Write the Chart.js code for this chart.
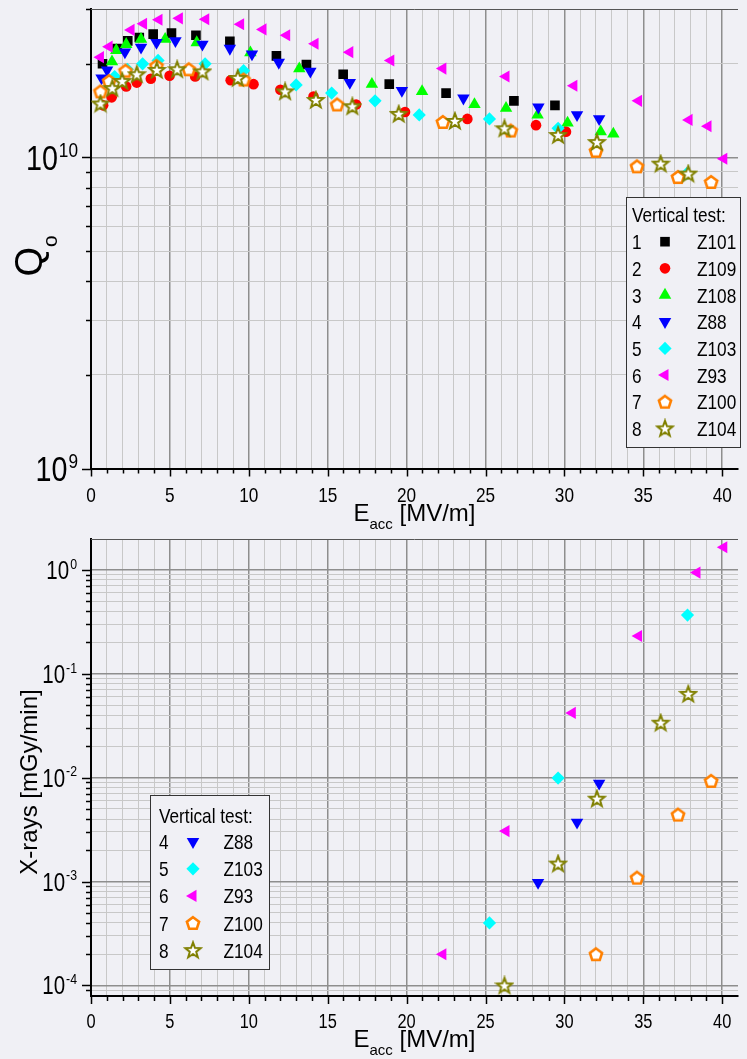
<!DOCTYPE html>
<html>
<head>
<meta charset="utf-8">
<title>Q0 and X-rays vs Eacc</title>
<script src="https://cdn.jsdelivr.net/npm/chart.js@4.4.1/dist/chart.umd.min.js"></script>
<style>
  html, body { margin: 0; padding: 0; background: #f0f0f5; }
  #wrap { position: relative; width: 747px; height: 1059px; overflow: hidden; }
  canvas { position: absolute; left: 0; }
  #qChart { top: 0; }
  #xChart { top: 530px; }
</style>
</head>
<body>
<div id="wrap">
  <canvas id="qChart" width="747" height="530"></canvas>
  <canvas id="xChart" width="747" height="529"></canvas>
</div>
<script>
// upper panel: Q0 vs Eacc [MV/m], one pair of arrays per cavity
const z101E = [0.73, 1.65, 2.33, 3.06, 3.94, 5.1, 6.65, 8.8, 11.75, 13.65, 15.98, 18.9, 22.5, 26.8, 29.4];
const z101Q = [2.0e10, 2.24e10, 2.37e10, 2.43e10, 2.49e10, 2.51e10, 2.47e10, 2.36e10, 2.12e10, 1.99e10, 1.85e10, 1.72e10, 1.61e10, 1.52e10, 1.47e10];

const z109E = [0.77, 1.31, 2.23, 2.9, 3.79, 4.98, 6.6, 8.85, 10.3, 12.0, 14.1, 16.8, 19.9, 23.85, 28.2, 30.1];
const z109Q = [1.47e10, 1.56e10, 1.69e10, 1.74e10, 1.79e10, 1.83e10, 1.82e10, 1.77e10, 1.72e10, 1.65e10, 1.57e10, 1.48e10, 1.40e10, 1.33e10, 1.27e10, 1.21e10];

const z108E = [1.33, 1.6, 2.23, 3.17, 4.7, 6.7, 10.1, 13.2, 17.8, 20.98, 24.3, 26.3, 28.3, 30.2, 32.3, 33.1];
const z108Q = [2.03e10, 2.21e10, 2.31e10, 2.40e10, 2.40e10, 2.34e10, 2.17e10, 1.93e10, 1.72e10, 1.63e10, 1.48e10, 1.44e10, 1.37e10, 1.29e10, 1.21e10, 1.19e10];

const z88E = [0.67, 1.02, 2.15, 3.17, 4.15, 5.35, 7.06, 8.8, 10.2, 11.9, 13.9, 16.4, 19.7, 23.6, 28.35, 30.8, 32.2];
const z88Q = [1.80e10, 1.91e10, 2.18e10, 2.26e10, 2.34e10, 2.37e10, 2.31e10, 2.24e10, 2.15e10, 2.02e10, 1.89e10, 1.74e10, 1.64e10, 1.55e10, 1.45e10, 1.37e10, 1.33e10];

const z103E = [1.5, 2.3, 3.27, 4.25, 7.23, 9.67, 13.0, 15.25, 18.0, 20.8, 25.25, 29.6, 37.75];
const z103Q = [1.82e10, 1.92e10, 2.0e10, 2.05e10, 2.0e10, 1.90e10, 1.71e10, 1.61e10, 1.52e10, 1.37e10, 1.33e10, 1.24e10, 8.87e9];

const z93E = [0.6, 1.15, 2.54, 3.33, 4.31, 5.6, 7.27, 9.48, 10.9, 12.4, 14.2, 16.4, 19.0, 22.3, 26.3, 30.6, 34.7, 37.9, 39.1, 40.1];
const z93Q = [2.1e10, 2.27e10, 2.57e10, 2.69e10, 2.77e10, 2.8e10, 2.78e10, 2.68e10, 2.58e10, 2.47e10, 2.32e10, 2.18e10, 2.05e10, 1.93e10, 1.82e10, 1.70e10, 1.52e10, 1.32e10, 1.26e10, 9.9e9];

const z100E = [0.6, 1.15, 2.19, 4.15, 6.2, 9.67, 15.6, 22.3, 26.6, 32.0, 34.6, 37.2, 39.3];
const z100Q = [1.63e10, 1.76e10, 1.90e10, 1.97e10, 1.92e10, 1.78e10, 1.48e10, 1.30e10, 1.22e10, 1.05e10, 9.36e9, 8.65e9, 8.34e9];

const z104E = [0.6, 1.35, 1.98, 2.9, 4.17, 5.46, 7.06, 9.3, 12.3, 14.25, 16.56, 19.5, 23.06, 26.2, 29.6, 32.06, 36.1, 37.85];
const z104Q = [1.49e10, 1.67e10, 1.76e10, 1.85e10, 1.91e10, 1.92e10, 1.89e10, 1.80e10, 1.63e10, 1.53e10, 1.46e10, 1.38e10, 1.31e10, 1.24e10, 1.18e10, 1.12e10, 9.55e9, 8.87e9];

// lower panel: X-ray dose rate [mGy/min] vs Eacc
const z88XrE = [28.33, 30.8, 32.2];
const z88Xr = [9.8e-4, 3.72e-3, 8.8e-3];
const z103XrE = [25.25, 29.6, 37.8];
const z103Xr = [4.0e-4, 9.9e-3, 0.367];
const z93XrE = [22.3, 26.3, 30.5, 34.7, 38.4, 40.1];
const z93Xr = [2.0e-4, 3.06e-3, 0.042, 0.231, 0.94, 1.65];
const z100XrE = [32.0, 34.6, 37.2, 39.3];
const z100Xr = [2.0e-4, 1.09e-3, 4.41e-3, 9.3e-3];
const z104XrE = [26.2, 29.6, 32.06, 36.1, 37.85];
const z104Xr = [1.0e-4, 1.49e-3, 6.27e-3, 0.0338, 0.064];

// axes
const eTicks = [0, 1, 2, 3, 4, 5, 6, 7, 8, 9, 10, 11, 12, 13, 14, 15, 16, 17, 18, 19, 20,
  21, 22, 23, 24, 25, 26, 27, 28, 29, 30, 31, 32, 33, 34, 35, 36, 37, 38, 39, 40];
const eLabelValues = [0, 5, 10, 15, 20, 25, 30, 35, 40];
const eLabels = ['0', '5', '10', '15', '20', '25', '30', '35', '40'];
const qTicks = [1e9, 2e9, 3e9, 4e9, 5e9, 6e9, 7e9, 8e9, 9e9, 1e10, 2e10, 3e10];
const qExponents = [9, 10];
const xrTicks = [9e-5, 1e-4, 2e-4, 3e-4, 4e-4, 5e-4, 6e-4, 7e-4, 8e-4, 9e-4,
  1e-3, 2e-3, 3e-3, 4e-3, 5e-3, 6e-3, 7e-3, 8e-3, 9e-3,
  1e-2, 2e-2, 3e-2, 4e-2, 5e-2, 6e-2, 7e-2, 8e-2, 9e-2,
  1e-1, 2e-1, 3e-1, 4e-1, 5e-1, 6e-1, 7e-1, 8e-1, 9e-1, 1];
const xrExponents = [-4, -3, -2, -1, 0];

const WIDE = '"Liberation Sans", Arial, sans-serif';
// no narrow face installed: squeeze Liberation Sans the way Arial Narrow does
const NARROW_SCALE = 0.82;
const BG = '#f0f0f5';
const MAJOR_GRID = '#8e8e8e';
const MINOR_GRID = '#c8c8c8';

function narrowWidth(ctx, text, size) {
  ctx.font = size + 'px ' + WIDE;
  return ctx.measureText(text).width * NARROW_SCALE;
}

function narrowText(ctx, text, x, y, size, align) {
  const w = narrowWidth(ctx, text, size);
  let left = x;
  if (align === 'right') left = x - w;
  else if (align === 'center') left = x - w / 2;
  ctx.save();
  ctx.translate(left, y);
  ctx.scale(NARROW_SCALE, 1);
  ctx.textAlign = 'left';
  ctx.textBaseline = 'alphabetic';
  ctx.fillText(text, 0, 0);
  ctx.restore();
  return w;
}

// pentagon and 5-point star are not built in, so draw them once as images
function makePentagon(color) {
  const c = document.createElement('canvas');
  c.width = c.height = 18;
  const g = c.getContext('2d');
  g.beginPath();
  for (let i = 0; i < 5; i++) {
    const a = -Math.PI / 2 + i * 2 * Math.PI / 5;
    const px = 9 + 6.4 * Math.cos(a), py = 9.6 + 6.4 * Math.sin(a);
    if (i) g.lineTo(px, py); else g.moveTo(px, py);
  }
  g.closePath();
  g.fillStyle = '#fff';
  g.fill();
  g.lineWidth = 2.6;
  g.strokeStyle = color;
  g.stroke();
  return c;
}

function makeStar(color) {
  const c = document.createElement('canvas');
  c.width = c.height = 20;
  const g = c.getContext('2d');
  g.beginPath();
  for (let i = 0; i < 10; i++) {
    const a = -Math.PI / 2 + i * Math.PI / 5;
    const r = i % 2 ? 3.4 : 8.2;
    const px = 10 + r * Math.cos(a), py = 10.6 + r * Math.sin(a);
    if (i) g.lineTo(px, py); else g.moveTo(px, py);
  }
  g.closePath();
  g.fillStyle = '#fff';
  g.fill();
  g.lineWidth = 2;
  g.lineJoin = 'miter';
  g.strokeStyle = color;
  g.stroke();
  return c;
}

const seriesStyle = {
  Z101: { num: '1', pointStyle: 'rect', radius: 6.8, color: '#000000' },
  Z109: { num: '2', pointStyle: 'circle', radius: 5.3, color: '#ff0000' },
  Z108: { num: '3', pointStyle: 'triangle', radius: 7.2, color: '#00ff00' },
  Z88: { num: '4', pointStyle: 'triangle', rotation: 180, radius: 7.2, color: '#0000ff' },
  Z103: { num: '5', pointStyle: 'rectRot', radius: 6.6, color: '#00ffff' },
  Z93: { num: '6', pointStyle: 'triangle', rotation: 270, radius: 7, color: '#ff00ff' },
  Z100: { num: '7', pointStyle: makePentagon('#ff8000'), radius: 9, color: '#ff8000' },
  Z104: { num: '8', pointStyle: makeStar('#808000'), radius: 9, color: '#808000' },
};

// later test numbers end up on top, like the original plot
const series = (name, xs, ys) => {
  const s = seriesStyle[name];
  return {
    label: name,
    data: xs.map((x, i) => ({ x, y: ys[i] })),
    pointStyle: s.pointStyle,
    pointRotation: s.rotation || 0,
    pointRadius: s.radius,
    pointBackgroundColor: s.color,
    pointBorderColor: s.color,
    pointBorderWidth: 0,
    order: 10 - Number(s.num),
  };
};

const isDecade = (v) => Math.abs(Math.log10(v) - Math.round(Math.log10(v))) < 1e-6;

function drawLegend(ctx, box, names) {
  ctx.fillStyle = BG;
  ctx.fillRect(box.x, box.y, box.w, box.h);
  ctx.strokeStyle = '#333';
  ctx.lineWidth = 1;
  ctx.strokeRect(box.x + 0.5, box.y + 0.5, box.w, box.h);

  ctx.fillStyle = '#000';
  narrowText(ctx, 'Vertical test:', box.numX, box.titleY, 21);

  names.forEach((name, i) => {
    const s = seriesStyle[name];
    const cy = box.rowY + i * box.rowGap;
    ctx.fillStyle = '#000';
    narrowText(ctx, s.num, box.numX, cy + 7.5, 21);
    narrowText(ctx, name, box.nameX, cy + 7.5, 21);
    ctx.fillStyle = s.color;
    Chart.helpers.drawPoint(ctx, { pointStyle: s.pointStyle, rotation: s.rotation || 0, radius: s.radius, borderWidth: 0 }, box.markX, cy);
  });
}

function drawEaccTitle(ctx, cx, baseline) {
  ctx.font = '24px ' + WIDE;
  const wE = ctx.measureText('E').width;
  const wU = ctx.measureText(' [MV/m]').width;
  ctx.font = '15px ' + WIDE;
  const wS = ctx.measureText('acc').width;
  const x0 = cx - (wE + wS + wU) / 2;
  ctx.fillStyle = '#000';
  ctx.textAlign = 'left';
  ctx.textBaseline = 'alphabetic';
  ctx.font = '24px ' + WIDE;
  ctx.fillText('E', x0, baseline);
  ctx.font = '15px ' + WIDE;
  ctx.fillText('acc', x0 + wE, baseline + 8);
  ctx.font = '24px ' + WIDE;
  ctx.fillText(' [MV/m]', x0 + wE + wS, baseline);
}

// frame, tick marks, tick labels, titles and legend
const decor = (cfg) => ({
  id: 'decor',
  afterDraw(chart) {
    const { ctx, chartArea: a, scales: { x, y } } = chart;
    ctx.save();

    ctx.strokeStyle = '#555';
    ctx.lineWidth = 1;
    ctx.beginPath();
    ctx.moveTo(a.left, a.top + 0.5);
    ctx.lineTo(a.right, a.top + 0.5);
    ctx.stroke();

    ctx.strokeStyle = '#000';
    ctx.lineWidth = 1.5;
    ctx.beginPath();
    x.ticks.forEach((t) => {
      const px = Math.round(x.getPixelForValue(t.value)) + 0.5;
      const len = t.value % 5 === 0 ? 8 : 5;
      ctx.moveTo(px, a.bottom);
      ctx.lineTo(px, a.bottom + len);
    });
    y.ticks.forEach((t) => {
      const py = Math.round(y.getPixelForValue(t.value)) + 0.5;
      const len = isDecade(t.value) ? 9 : 5;
      ctx.moveTo(a.left - len, py);
      ctx.lineTo(a.left, py);
    });
    ctx.stroke();

    ctx.fillStyle = '#000';
    eLabelValues.forEach((v, i) => {
      narrowText(ctx, eLabels[i], x.getPixelForValue(v), cfg.tickBase, cfg.tickSize, 'center');
    });

    // 10^n labels, exponent raised
    cfg.exponents.forEach((e) => {
      const py = y.getPixelForValue(Math.pow(10, e));
      const sup = String(e);
      const wSup = narrowWidth(ctx, sup, cfg.supSize);
      const base = py + 0.716 * cfg.baseSize / 2;
      narrowText(ctx, '10', cfg.labelRight - wSup - 1, base, cfg.baseSize, 'right');
      narrowText(ctx, sup, cfg.labelRight - wSup, base - 0.716 * cfg.baseSize - 3 + 0.716 * cfg.supSize, cfg.supSize);
    });

    drawEaccTitle(ctx, (a.left + a.right) / 2, cfg.titleBase);
    cfg.yTitle(ctx);
    drawLegend(ctx, cfg.legend, cfg.legendNames);
    ctx.restore();
  },
});

function buildChart(id, cfg) {
  return new Chart(document.getElementById(id), {
    type: 'scatter',
    data: { datasets: cfg.datasets },
    options: {
      responsive: false,
      animation: false,
      devicePixelRatio: 1,
      events: [],
      layout: { padding: { left: 91, top: cfg.top, right: 0, bottom: 0 } },
      plugins: { legend: { display: false }, tooltip: { enabled: false } },
      scales: {
        x: {
          type: 'linear',
          min: 0,
          max: 41,
          afterBuildTicks: (s) => { s.ticks = eTicks.map((value) => ({ value })); },
          afterFit: (s) => { s.height = cfg.xAxisHeight; },
          grid: {
            drawTicks: false,
            color: (c) => (c.tick && c.tick.value % 5 === 0 ? MAJOR_GRID : MINOR_GRID),
            lineWidth: (c) => (c.tick && c.tick.value % 5 === 0 ? 1.5 : 1),
          },
          border: { color: '#000', width: 2 },
          ticks: { display: false },
        },
        y: {
          type: 'logarithmic',
          min: cfg.yMin,
          max: cfg.yMax,
          afterBuildTicks: (s) => { s.ticks = cfg.yTicks.map((value) => ({ value })); },
          afterFit: (s) => { s.width = 0; },
          grid: {
            drawTicks: false,
            color: (c) => (c.tick && isDecade(c.tick.value) ? MAJOR_GRID : MINOR_GRID),
            lineWidth: (c) => (c.tick && isDecade(c.tick.value) ? 1.5 : 1),
          },
          border: { color: '#000', width: 2 },
          ticks: { display: false },
        },
      },
    },
    plugins: [decor(cfg)],
  });
}

buildChart('qChart', {
  datasets: [
    series('Z101', z101E, z101Q),
    series('Z109', z109E, z109Q),
    series('Z108', z108E, z108Q),
    series('Z88', z88E, z88Q),
    series('Z103', z103E, z103Q),
    series('Z93', z93E, z93Q),
    series('Z100', z100E, z100Q),
    series('Z104', z104E, z104Q),
  ],
  top: 8,
  xAxisHeight: 61.5,
  tickBase: 502,
  tickSize: 21,
  yMin: 1e9,
  yMax: 3e10,
  yTicks: qTicks,
  exponents: qExponents,
  baseSize: 35,
  supSize: 21,
  labelRight: 78,
  titleBase: 521,
  yTitle: (ctx) => {
    ctx.save();
    ctx.translate(42, 276.5);
    ctx.rotate(-Math.PI / 2);
    ctx.fillStyle = '#000';
    ctx.textAlign = 'left';
    ctx.textBaseline = 'alphabetic';
    ctx.font = '38px ' + WIDE;
    const wQ = ctx.measureText('Q').width;
    ctx.fillText('Q', 0, 0);
    ctx.font = '21px ' + WIDE;
    ctx.fillText('o', wQ, 15);
    ctx.restore();
  },
  legend: { x: 626, y: 197, w: 114, h: 250, numX: 632, markX: 665, nameX: 697, titleY: 222, rowY: 241.7, rowGap: 26.67 },
  legendNames: ['Z101', 'Z109', 'Z108', 'Z88', 'Z103', 'Z93', 'Z100', 'Z104'],
});

buildChart('xChart', {
  datasets: [
    series('Z88', z88XrE, z88Xr),
    series('Z103', z103XrE, z103Xr),
    series('Z93', z93XrE, z93Xr),
    series('Z100', z100XrE, z100Xr),
    series('Z104', z104XrE, z104Xr),
  ],
  top: 6,
  xAxisHeight: 63,
  tickBase: 497.5,
  tickSize: 20,
  yMin: 7.92e-5,
  yMax: 1.98,
  yTicks: xrTicks,
  exponents: xrExponents,
  baseSize: 25,
  supSize: 15,
  labelRight: 77,
  titleBase: 517,
  yTitle: (ctx) => {
    ctx.save();
    ctx.translate(37, 252);
    ctx.rotate(-Math.PI / 2);
    ctx.fillStyle = '#000';
    ctx.textAlign = 'center';
    ctx.textBaseline = 'alphabetic';
    ctx.font = '24px ' + WIDE;
    ctx.fillText('X-rays [mGy/min]', 0, 0);
    ctx.restore();
  },
  legend: { x: 150, y: 265, w: 119, h: 174, numX: 159, markX: 193, nameX: 223.5, titleY: 292.7, rowY: 311.7, rowGap: 27.1 },
  legendNames: ['Z88', 'Z103', 'Z93', 'Z100', 'Z104'],
});
</script>
</body>
</html>
